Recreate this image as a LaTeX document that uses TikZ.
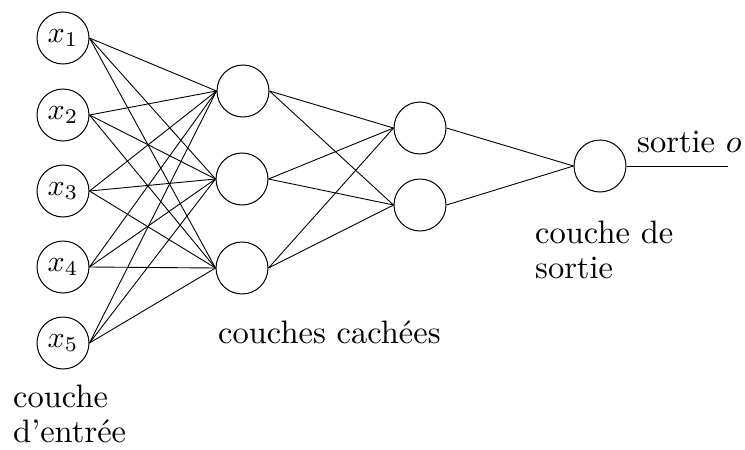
\RequirePackage{fix-cm}
\documentclass[tikz,border=0pt]{standalone}
\usepackage{graphicx}
\newcommand{\bigtxt}[1]{\scalebox{3.25}{#1}}
\newcommand{\nodetxt}[1]{\scalebox{3.0}{#1}}
\begin{document}
\begin{tikzpicture}[x=1pt,y=-1pt,
  neuron/.style={circle,draw,line width=1pt,minimum size=52pt,inner sep=0pt,font=\fontsize{10}{12}\selectfont},
  lbl/.style={anchor=base west,inner sep=0pt,font=\fontsize{10}{12}\selectfont},
  conn/.style={line width=0.9pt}]
\useasboundingbox (0,0) rectangle (745,450);
% input layer
\node[neuron] (x1) at (63,38) {\nodetxt{$x_1$}};
\node[neuron] (x2) at (63,115) {\nodetxt{$x_2$}};
\node[neuron] (x3) at (63,191) {\nodetxt{$x_3$}};
\node[neuron] (x4) at (63,267) {\nodetxt{$x_4$}};
\node[neuron] (x5) at (63,343) {\nodetxt{$x_5$}};
% hidden layer 1
\node[neuron] (h1) at (243,91) {};
\node[neuron] (h2) at (242,179) {};
\node[neuron] (h3) at (242,268) {};
% hidden layer 2
\node[neuron] (g1) at (420,128) {};
\node[neuron] (g2) at (420,205) {};
% output
\node[neuron] (o) at (600,166) {};
\coordinate (oend) at (728,166);
% connections
\foreach \i in {1,...,5}
  \foreach \j in {1,2,3}
    \draw[conn] (x\i.east) -- (h\j.west);
\foreach \j in {1,2,3}
  \foreach \k in {1,2}
    \draw[conn] (h\j.east) -- (g\k.west);
\foreach \k in {1,2}
  \draw[conn] (g\k.east) -- (o.west);
\draw[conn] (o.east) -- (oend);
% labels
\node[lbl] (lo) at (637,152) {\bigtxt{sortie $o$}};
\node[lbl] (lcs1) at (535,243) {\bigtxt{couche de}};
\node[lbl] (lcs2) at (535,278) {\bigtxt{sortie}};
\node[lbl] (lcc) at (218,343) {\bigtxt{couches cach\'ees}};
\node[lbl] (lce1) at (13,407) {\bigtxt{couche}};
\node[lbl] (lce2) at (13,442) {\bigtxt{d'entr\'ee}};
\end{tikzpicture}
\end{document}
